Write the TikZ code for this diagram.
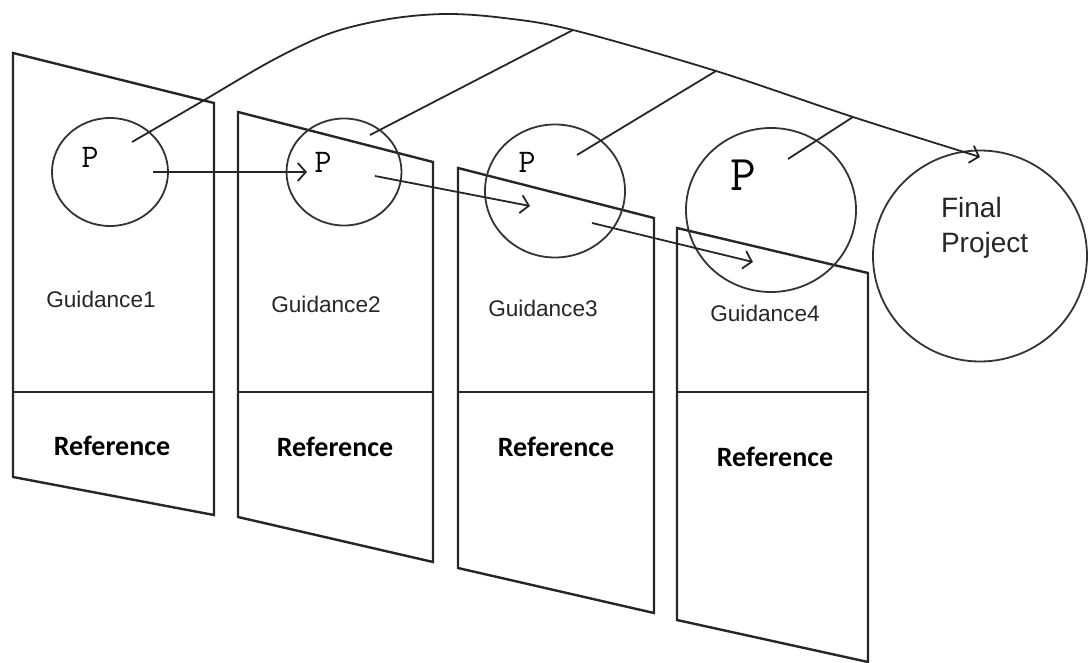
\documentclass[tikz,border=0pt]{standalone}
\usepackage{fontspec}
\setmainfont{Liberation Sans}
\newfontfamily\reffont{Carlito}
\usetikzlibrary{arrows.meta,shapes.geometric}
\begin{document}
\begin{tikzpicture}[x=0.5pt,y=-0.5pt,
  panel/.style={line width=1.2pt,black!85},
  bubble/.style={draw,ellipse,line width=0.9pt,black!80,inner sep=0pt},
  link/.style={line width=0.9pt,black!85},
  arr/.style={link,-{Straight Barb[length=4pt,width=9pt]}},
  gtext/.style={font=\fontsize{11.3}{13}\selectfont,text=black!85},
  rtext/.style={font=\reffont\bfseries\fontsize{14}{16}\selectfont},
  ptext/.style={font=\ttfamily\fontsize{16.5}{18}\selectfont},
  ftext/.style={font=\fontsize{14}{17.5}\selectfont,align=left,text=black!85}]
\useasboundingbox (0,0) rectangle (1088,663);
% panels
\draw[panel] (13,53) -- (214,103) -- (214,515) -- (13,477) -- cycle;
\draw[panel] (13,392) -- (214,392);
\draw[panel] (238,112) -- (433,162) -- (433,562) -- (238,517) -- cycle;
\draw[panel] (238,392) -- (433,392);
\draw[panel] (458,168) -- (654,218) -- (654,613) -- (458,568) -- cycle;
\draw[panel] (458,392) -- (654,392);
\draw[panel] (677,228) -- (868,273) -- (868,662) -- (677,620) -- cycle;
\draw[panel] (677,392) -- (868,392);
% bubbles
\node[bubble,minimum width=58pt,minimum height=54pt] (c1) at (110,172) {};
\node[bubble,minimum width=57.5pt,minimum height=53.5pt] (c2) at (344,172) {};
\node[bubble,minimum width=70pt,minimum height=66.5pt] (c3) at (555,191) {};
\node[bubble,minimum width=85pt,minimum height=82pt] (c4) at (771,210) {};
\node[bubble,minimum width=107pt,minimum height=105.5pt] (c5) at (980,256) {};
% texts
\node[ptext] (p1) at (90,157) {P};
\node[ptext] (p2) at (323,162) {P};
\node[ptext] (p3) at (527,162) {P};
\node[ptext,font=\ttfamily\fontsize{25}{28}\selectfont] (p4) at (743,175) {P};
\node[ftext,anchor=north west] (fp) at (934,190) {Final\\Project};
\node[gtext] (g1) at (101,299) {Guidance1};
\node[gtext] (g2) at (326,304) {Guidance2};
\node[gtext] (g3) at (543,308) {Guidance3};
\node[gtext] (g4) at (765,313) {Guidance4};
\node[rtext] (r1) at (112,446) {Reference};
\node[rtext] (r2) at (335,447) {Reference};
\node[rtext] (r3) at (556,447) {Reference};
\node[rtext] (r4) at (775,457) {Reference};
% arrow endpoints
\coordinate (s1) at (153,172); \coordinate (e1) at (307,172);
\coordinate (s2) at (375,176); \coordinate (e2) at (530,206);
\coordinate (s3) at (592,223); \coordinate (e3) at (753,262);
\draw[arr] (s1) -- (e1);
\draw[arr] (s2) -- (e2);
\draw[arr] (s3) -- (e3);
% big curve
\coordinate (k0) at (132,142);
\coordinate (k2) at (573,30);
\coordinate (k3) at (716,71);
\coordinate (k4) at (853,117);
\coordinate (kend) at (980,157);
\draw[arr] plot[smooth,tension=0.55] coordinates {(k0) (201,102) (273,60) (331,33) (389,19) (446,14) (504,18) (k2) (k3) (k4) (kend)};
% spokes
\coordinate (t2) at (370,135);
\coordinate (t3) at (577,155);
\coordinate (t4) at (788,159);
\draw[link] (t2) -- (k2);
\draw[link] (t3) -- (k3);
\draw[link] (t4) -- (k4);
\end{tikzpicture}
\end{document}
